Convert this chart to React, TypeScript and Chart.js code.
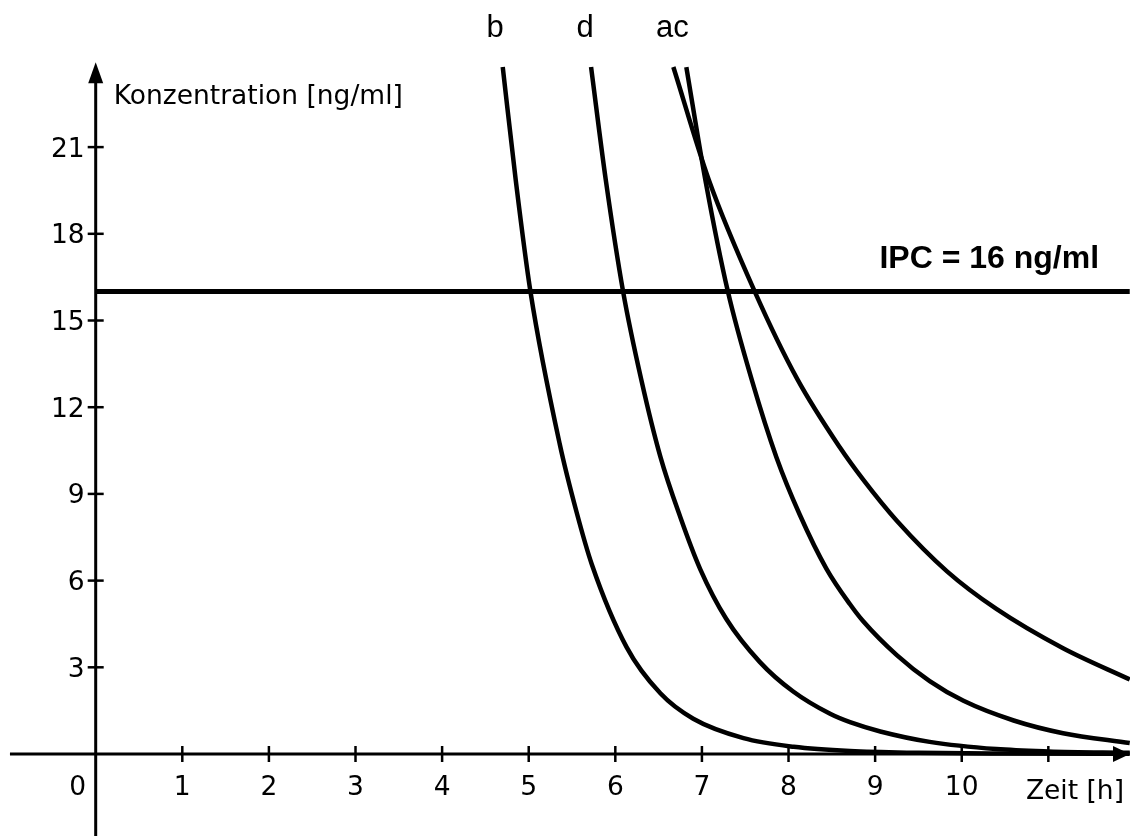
import React, { useEffect, useRef } from "react";
import { Chart, registerables } from "chart.js";

Chart.register(...registerables);

// ---- Data ----
const timeB = [4.70, 4.85, 5.02, 5.36, 5.55, 5.73, 6.13, 6.52, 6.90, 7.48, 8.06, 8.71, 9.50, 10.50, 11.94];
const concB = [23.77, 19.86, 16.0, 10.7, 8.4, 6.55, 3.7, 2.1, 1.22, 0.55, 0.25, 0.1, 0.04, 0.015, 0.005];

const timeD = [5.72, 5.89, 6.09, 6.30, 6.52, 6.75, 6.98, 7.28, 7.67, 8.05, 8.48, 8.71, 9.06, 9.63, 10.40, 11.00, 11.94];
const concD = [23.77, 19.86, 16.0, 12.95, 10.29, 8.2, 6.4, 4.68, 3.18, 2.17, 1.39, 1.1, 0.78, 0.42, 0.17, 0.09, 0.04];

const timeA = [6.82, 7.04, 7.30, 7.58, 7.86, 8.13, 8.44, 8.71, 8.86, 9.25, 9.63, 10.02, 10.60, 11.17, 11.94];
const concA = [23.77, 19.86, 16.0, 12.9, 10.27, 8.28, 6.4, 5.18, 4.6, 3.42, 2.52, 1.84, 1.16, 0.72, 0.38];

const timeC = [6.67, 7.08, 7.61, 8.10, 8.59, 8.86, 9.25, 9.83, 10.40, 11.17, 11.94];
const concC = [23.77, 19.86, 16.0, 12.98, 10.62, 9.5, 8.07, 6.32, 5.02, 3.66, 2.58];

const ipcLevel = 16;
const ipcSpan = [0, 11.94];

const xTickValues = [1, 2, 3, 4, 5, 6, 7, 8, 9, 10, 11];
const xTickLabels = ["0", "1", "2", "3", "4", "5", "6", "7", "8", "9", "10"];
const yTickValues = [3, 6, 9, 12, 15, 18, 21];
const yTickLabels = ["3", "6", "9", "12", "15", "18", "21"];

const curveLabels = ["b", "d", "ac"];
const xTitle = "Zeit [h]";
const yTitle = "Konzentration [ng/ml]";
const ipcText = "IPC = 16 ng/ml";

// ---- View window ----
const X_MIN = -1.105;
const X_MAX = 11.943;
const Y_MIN = -2.837;
const Y_MAX = 26.09;

const toXY = (ts: number[], vs: number[]) => ts.map((t, i) => ({ x: t, y: vs[i] }));

const axesPlugin = {
  id: "handAxes",
  beforeDatasetsDraw(chart: any) {
    const { ctx, chartArea } = chart;
    const xs = chart.scales.x;
    const ys = chart.scales.y;
    const x0 = xs.getPixelForValue(0);
    const y0 = ys.getPixelForValue(0);
    ctx.save();
    ctx.strokeStyle = "#000";
    ctx.fillStyle = "#000";
    ctx.lineCap = "butt";

    // x axis
    const xl = xs.getPixelForValue(-0.99);
    const xr = chartArea.right;
    ctx.lineWidth = 3;
    ctx.beginPath();
    ctx.moveTo(xl, y0);
    ctx.lineTo(xr - 12, y0);
    ctx.stroke();
    ctx.beginPath();
    ctx.moveTo(xr, y0);
    ctx.lineTo(xr - 17, y0 - 8);
    ctx.lineTo(xr - 17, y0 + 8);
    ctx.closePath();
    ctx.fill();

    // y axis
    const yb = chartArea.bottom;
    const yt = ys.getPixelForValue(23.94);
    ctx.beginPath();
    ctx.moveTo(x0, yb);
    ctx.lineTo(x0, yt + 15);
    ctx.stroke();
    ctx.beginPath();
    ctx.moveTo(x0, yt);
    ctx.lineTo(x0 - 7.5, yt + 21);
    ctx.lineTo(x0 + 7.5, yt + 21);
    ctx.closePath();
    ctx.fill();

    // ticks
    ctx.lineWidth = 2.5;
    xTickValues.forEach((v) => {
      const px = xs.getPixelForValue(v);
      ctx.beginPath();
      ctx.moveTo(px, y0 - 8);
      ctx.lineTo(px, y0 + 8);
      ctx.stroke();
    });
    yTickValues.forEach((v) => {
      const py = ys.getPixelForValue(v);
      ctx.beginPath();
      ctx.moveTo(x0 - 8, py);
      ctx.lineTo(x0 + 8, py);
      ctx.stroke();
    });

    // tick labels
    ctx.font = '26.5px "DejaVu Sans"';
    ctx.textBaseline = "alphabetic";
    ctx.textAlign = "center";
    xTickLabels.forEach((lab, i) => {
      const px = i === 0 ? x0 - 18 : xs.getPixelForValue(i);
      ctx.fillText(lab, px, y0 + 41);
    });
    ctx.textAlign = "right";
    yTickLabels.forEach((lab, i) => {
      const py = ys.getPixelForValue(yTickValues[i]);
      ctx.fillText(lab, x0 - 11, py + 9.5);
    });

    // axis titles
    ctx.textAlign = "left";
    ctx.fillText(yTitle, x0 + 18, ys.getPixelForValue(23.94) + 42);
    ctx.textAlign = "right";
    ctx.fillText(xTitle, xr - 6, y0 + 45);

    // curve labels above the plot
    ctx.font = '31px "Liberation Sans"';
    ctx.textAlign = "center";
    const labelX = [4.611, 5.65, 6.66];
    curveLabels.forEach((lab, i) => {
      ctx.fillText(lab, xs.getPixelForValue(labelX[i]), ys.getPixelForValue(24.81));
    });

    // IPC label
    ctx.font = 'bold 32px "Liberation Sans"';
    ctx.textAlign = "left";
    ctx.fillText(ipcText, xs.getPixelForValue(9.05), ys.getPixelForValue(ipcLevel) - 24);

    ctx.restore();
  },
};

export default function App() {
  const canvasRef = useRef<HTMLCanvasElement | null>(null);

  useEffect(() => {
    const canvas = canvasRef.current;
    if (!canvas) return;
    const curveStyle = {
      borderColor: "#000",
      borderWidth: 4.5,
      pointRadius: 0,
      pointHoverRadius: 0,
      fill: false,
      cubicInterpolationMode: "monotone" as const,
      borderJoinStyle: "round" as const,
    };
    const chart = new Chart(canvas, {
      type: "line",
      data: {
        datasets: [
          { label: "IPC", data: ipcSpan.map((t) => ({ x: t, y: ipcLevel })), borderColor: "#000", borderWidth: 5, pointRadius: 0, fill: false, tension: 0 },
          { label: "b", data: toXY(timeB, concB), ...curveStyle },
          { label: "d", data: toXY(timeD, concD), ...curveStyle },
          { label: "a", data: toXY(timeA, concA), ...curveStyle },
          { label: "c", data: toXY(timeC, concC), ...curveStyle },
        ],
      },
      options: {
        responsive: false,
        animation: false,
        events: [],
        layout: { padding: 0 },
        plugins: {
          legend: { display: false },
          tooltip: { enabled: false },
          title: { display: false },
        },
        scales: {
          x: { type: "linear", min: X_MIN, max: X_MAX, display: false },
          y: { type: "linear", min: Y_MIN, max: Y_MAX, display: false },
        },
      },
      plugins: [axesPlugin],
    });
    return () => chart.destroy();
  }, []);

  return (
    <div style={{ position: "absolute", left: 0, top: 0, width: 1130, height: 836, background: "#fff" }}>
      <canvas ref={canvasRef} width={1130} height={836} style={{ display: "block" }} />
    </div>
  );
}
